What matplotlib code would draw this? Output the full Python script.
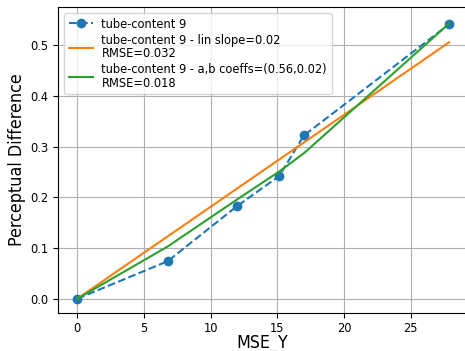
import matplotlib
matplotlib.use("Agg")
import matplotlib.pyplot as plt

# Condensed DejaVu face for all text
plt.rcParams["font.stretch"] = "condensed"

# Measured points
mse_y = [0.0, 6.78, 12.0, 15.15, 17.0, 27.9]
perceptual_diff = [0.0, 0.074, 0.183, 0.242, 0.322, 0.5415]

# Fitted curves evaluated at the measured MSE values
lin_fit = [0.0, 0.123, 0.2176, 0.2747, 0.3082, 0.506]
ab_fit = [0.0, 0.103, 0.196, 0.251, 0.287, 0.543]

series_label = "tube-content 9"
lin_label = "tube-content 9 - lin slope=0.02\nRMSE=0.032"
ab_label = "tube-content 9 - a,b coeffs=(0.56,0.02)\nRMSE=0.018"

W, H = 465, 351
fig = plt.figure(figsize=(W / 100, H / 100), dpi=100)
ax = fig.add_axes([58 / W, (H - 312.7) / H, 409.2 / W, 306 / H])

ax.plot(mse_y, perceptual_diff, "--o", color="#1f77b4", lw=1.5, ms=6, label=series_label)
ax.plot(mse_y, lin_fit, "-", color="#ff7f0e", lw=1.5, label=lin_label)
ax.plot(mse_y, ab_fit, "-", color="#2ca02c", lw=1.5, label=ab_label)

ax.set_xlim(-1.45, 29.25)
ax.set_ylim(-0.0276, 0.576)
ax.set_xticks([0, 5, 10, 15, 20, 25])
ax.set_yticks([0.0, 0.1, 0.2, 0.3, 0.4, 0.5])
ax.tick_params(labelsize=9.2)
ax.grid(True, color="#b0b0b0", lw=0.8)

ax.set_xlabel("MSE_Y", fontsize=12.8, labelpad=-1)
ax.set_ylabel("Perceptual Difference", fontsize=12.8, labelpad=3)

leg = ax.legend(loc="upper left", fontsize=9.2, handlelength=1.9, handletextpad=0.65,
                labelspacing=0.25, borderaxespad=0.5, borderpad=0.35)
for t in leg.get_texts():
    t.set_linespacing(1.05)

fig.savefig("out.png", dpi=100)
